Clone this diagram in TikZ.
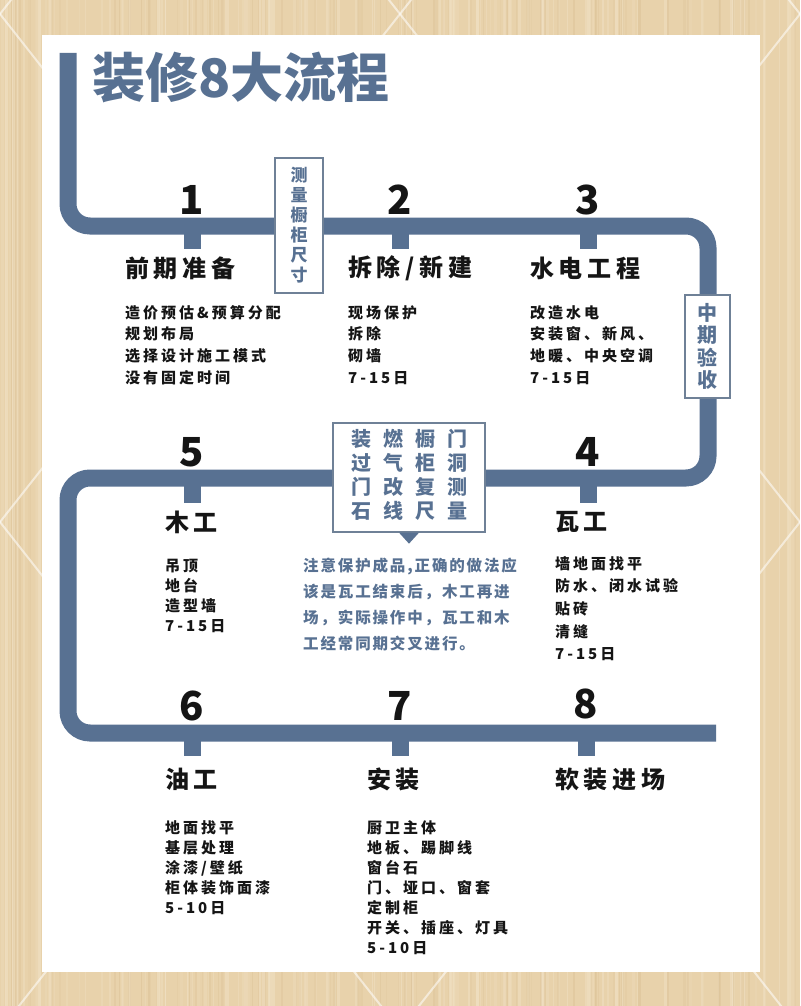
\documentclass[tikz,border=0pt]{standalone}
\usepackage{fontspec}
\setmainfont{Noto Sans CJK SC}
\newfontfamily\cjk{Noto Sans CJK SC}
\newfontfamily\cjkls[LetterSpace=20]{Noto Sans CJK SC}
\newfontfamily\cjknote[LetterSpace=12]{Noto Sans CJK SC}
\definecolor{flow}{HTML}{587192}
\definecolor{boxline}{HTML}{6F8197}
\definecolor{wood}{HTML}{E8D2AB}
\definecolor{woodlight}{HTML}{F2E3C8}
\definecolor{wooddark}{HTML}{D9BE92}
\definecolor{ink}{HTML}{151515}
\tikzset{
  track/.style={draw=flow, line width=17pt, rounded corners=22pt},
  stub/.style={draw=flow, line width=17pt},
  num/.style={inner sep=0pt, text=ink, font=\cjk\bfseries\fontsize{40}{40}\selectfont},
  ttl/.style={inner sep=0pt, anchor=west, text=ink, font=\cjkls\bfseries\fontsize{24}{24}\selectfont},
  detail/.style={inner sep=0pt, anchor=north west, align=left, text=ink, font=\cjkls\bfseries\fontsize{15}{21.7}\selectfont},
  detailb/.style={inner sep=0pt, anchor=north west, align=left, text=ink, font=\cjkls\bfseries\fontsize{15}{20}\selectfont},
  detailc/.style={inner sep=0pt, anchor=north west, align=left, text=ink, font=\cjkls\bfseries\fontsize{15}{22.7}\selectfont},
  vbox/.style={draw=boxline, line width=1.3pt, fill=white, inner sep=0pt, align=center, text=flow},
  lattice/.style={draw=white, line width=2pt, opacity=0.55},
}
\begin{document}
\begin{tikzpicture}[x=1pt, y=-1pt]
\useasboundingbox (0,0) rectangle (800,1006);
% wood background
\fill[wood] (0,0) rectangle (800,1006);
\pgfmathsetseed{11}
\foreach \i in {1,...,140} {
  \pgfmathsetmacro\xx{rnd*800}
  \pgfmathsetmacro\ww{0.6+rnd*3}
  \pgfmathsetmacro\op{0.15+rnd*0.35}
  \fill[woodlight, opacity=\op] (\xx,0) rectangle ++(\ww,1006);
}
\foreach \i in {1,...,90} {
  \pgfmathsetmacro\xx{rnd*800}
  \pgfmathsetmacro\ww{0.5+rnd*2}
  \pgfmathsetmacro\op{0.12+rnd*0.3}
  \fill[wooddark, opacity=\op] (\xx,0) rectangle ++(\ww,1006);
}
% diagonal lattice
\begin{scope}
\clip (0,0) rectangle (800,1006);
\foreach \k in {-2,...,4} {
  \draw[lattice] ({400*\k-100},-113) -- ({400*\k+900},1157);
  \draw[lattice] ({400*\k+100},-113) -- ({400*\k-900},1157);
}
\end{scope}
% white panel
\fill[white] (42,35) rectangle (760,972);

% title
\node[anchor=west, inner sep=0pt, text=flow, font=\cjk\bfseries\fontsize{53}{53}\selectfont] (title) at (92,78) {装修8大流程};

% track
\draw[track] (68,53) -- (68,226) -- (708,226) -- (708,478) -- (68,478) -- (68,733) -- (716,733);

% stubs
\draw[stub] (192,226) -- (192,249);
\draw[stub] (400,226) -- (400,249);
\draw[stub] (588,226) -- (588,249);
\draw[stub] (192,478) -- (192,503);
\draw[stub] (588,478) -- (588,503);
\draw[stub] (192,733) -- (192,756);
\draw[stub] (400,733) -- (400,756);
\draw[stub] (586,733) -- (586,756);

% numbers
\node[num] (n1) at (192,200) {1};
\node[num] (n2) at (400,200) {2};
\node[num] (n3) at (588,200) {3};
\node[num] (n5) at (192,452) {5};
\node[num] (n4) at (588,452) {4};
\node[num] (n6) at (192,706) {6};
\node[num] (n7) at (400,706) {7};
\node[num] (n8) at (586,704) {8};

% side boxes
\node[vbox, minimum width=48pt, minimum height=135pt, font=\cjk\bfseries\fontsize{17}{20}\selectfont] (measure) at (299,225.5) {测\\量\\橱\\柜\\尺\\寸};
\node[vbox, minimum width=45pt, minimum height=103pt, font=\cjk\bfseries\fontsize{20}{22.5}\selectfont] (midcheck) at (707.5,346.5) {中\\期\\验\\收};
\node[vbox, minimum width=152pt, minimum height=109pt, font=\cjk\bfseries\fontsize{20}{23.5}\selectfont] (tips) at (409,477.5) {%
  \renewcommand\arraystretch{1}%
  \begin{tabular}{@{}c@{\hspace{12pt}}c@{\hspace{12pt}}c@{\hspace{12pt}}c@{}}
  装&燃&橱&门\\
  过&气&柜&洞\\
  门&改&复&测\\
  石&线&尺&量
  \end{tabular}};
\fill[flow] ([xshift=-10pt]tips.south) -- ([xshift=10pt]tips.south) -- ([yshift=-11pt]tips.south) -- cycle;

% step titles
\node[ttl] (t1) at (125,268) {前期准备};
\node[ttl] (t2) at (348,268) {拆除/新建};
\node[ttl] (t3) at (530,268) {水电工程};
\node[ttl] (t5) at (165,522) {木工};
\node[ttl] (t4) at (555,522) {瓦工};
\node[ttl] (t6) at (165,779) {油工};
\node[ttl] (t7) at (367,779) {安装};
\node[ttl] (t8) at (555,779) {软装进场};

% details
\node[detail] (d1) at (125,305) {造价预估\&预算分配\\规划布局\\选择设计施工模式\\没有固定时间};
\node[detail] (d2) at (348,305) {现场保护\\拆除\\砌墙\\7-15日};
\node[detail] (d3) at (530,305) {改造水电\\安装窗、新风、\\地暖、中央空调\\7-15日};
\node[detailb] (d5) at (165,559) {吊顶\\地台\\造型墙\\7-15日};
\node[detailc] (d4) at (555,556) {墙地面找平\\防水、闭水试验\\贴砖\\清缝\\7-15日};
\node[detailb] (d6) at (165,820) {地面找平\\基层处理\\涂漆/壁纸\\柜体装饰面漆\\5-10日};
\node[detailb] (d7) at (367,820) {厨卫主体\\地板、踢脚线\\窗台石\\门、垭口、窗套\\定制柜\\开关、插座、灯具\\5-10日};

% note
\node[inner sep=0pt, anchor=north west, align=left, text=flow, font=\cjknote\bfseries\fontsize{15.5}{26}\selectfont] (note) at (303,558) {注意保护成品,正确的做法应\\该是瓦工结束后，木工再进\\场，实际操作中，瓦工和木\\工经常同期交叉进行。};
\end{tikzpicture}
\end{document}
